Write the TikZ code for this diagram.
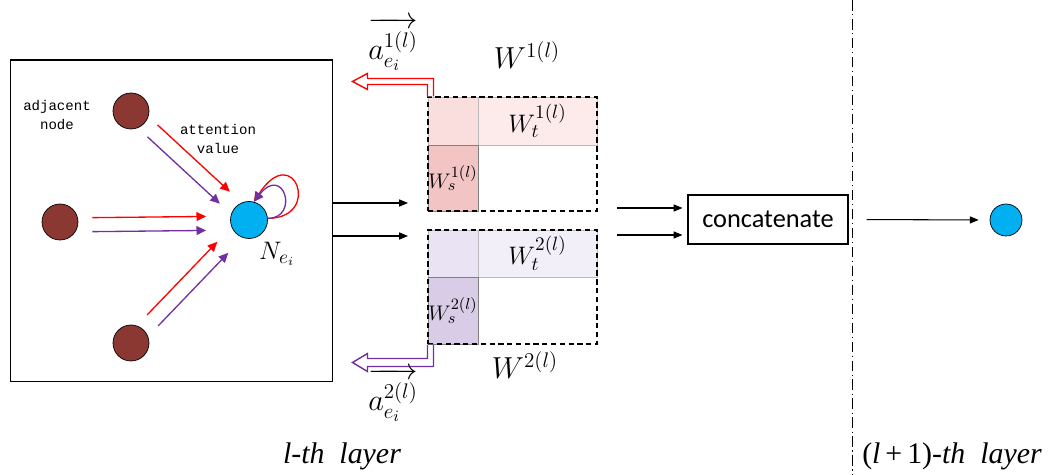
\documentclass[tikz,border=0pt]{standalone}
\usepackage{fontspec}
\setmainfont{Liberation Serif}
\newfontfamily\adjmono{Liberation Mono}
\newfontfamily\concatfont{Carlito}
\usetikzlibrary{arrows.meta,calc}

\definecolor{adjbrown}{RGB}{140,56,50}
\definecolor{tgtblue}{RGB}{0,176,240}
\definecolor{attpurple}{RGB}{112,48,160}
\definecolor{wtred}{RGB}{253,234,234}
\definecolor{cornerred}{RGB}{250,222,222}
\definecolor{wsred}{RGB}{242,196,196}
\definecolor{wtpurple}{RGB}{243,239,248}
\definecolor{cornerpurple}{RGB}{234,227,243}
\definecolor{wspurple}{RGB}{216,204,230}

\begin{document}
\begin{tikzpicture}[
            x=0.02cm, y=-0.02cm,
            adj/.style={
                    circle,
                    draw,
                    inner sep=0pt,
                    minimum size=0.72cm,
                    fill=adjbrown
                },
            tgt/.style={
                    circle,
                    draw,
                    inner sep=0pt,
                    minimum size=0.74cm,
                    fill=tgtblue
                },
            redarr/.style={
                    -{Triangle[length=5.5pt, width=5pt]},
                    line width=0.75pt,
                    draw=red
                },
            purarr/.style={
                    -{Triangle[length=5.5pt, width=5pt]},
                    line width=0.75pt,
                    draw=attpurple
                },
            flow/.style={
                    -{Triangle[length=5pt, width=4pt]},
                    line width=0.6pt
                },
            cell/.style={
                    draw=gray!55,
                    line width=0.4pt,
                    inner sep=0pt,
                    font=\fontsize{15}{18}\selectfont
                },
            wmat/.style={
                    draw,
                    dash pattern=on 3pt off 2pt,
                    line width=0.6pt,
                    inner sep=0pt,
                    minimum width=3.38cm,
                    minimum height=2.28cm
                },
            mono/.style={
                    align=center,
                    font=\adjmono\fontsize{8}{10.8}\selectfont
                },
            wlbl/.style={
                    font=\fontsize{18}{21}\selectfont
                },
            vlbl/.style={
                    anchor=base,
                    inner sep=0pt,
                    font=\fontsize{18}{21}\selectfont
                },
            layerlbl/.style={
                    font=\fontsize{17}{20}\selectfont
                }
        ]

        \useasboundingbox (0,0) rectangle (1051,475);

        % left box with the attention graph
        \node[draw, line width=0.6pt, minimum width=6.46cm, minimum height=6.44cm] (layer) at (171.5,221) {};

        \node[adj] (top) at (131,111) {};
        \node[adj] (left) at (60,222) {};
        \node[adj] (bot) at (131,343) {};
        \node[tgt] (ctr) at (249,220) {};

        \node[mono] (adjtxt) at (57,115) {adjacent\\node};
        \node[mono] (atttxt) at (218,139) {attention\\value};
        \node[font=\fontsize{15}{17}\selectfont] (ntxt) at (277,254) {$N_{e_i}$};

        \draw[redarr, shorten <=0.22cm, shorten >=0.28cm, transform canvas={shift={(5,-6)}}] (top) -- (ctr);
        \draw[purarr, shorten <=0.22cm, shorten >=0.28cm, transform canvas={shift={(-5,6)}}] (top) -- (ctr);

        \draw[redarr, shorten <=0.28cm, shorten >=0.48cm, transform canvas={shift={(0,-4)}}] (left) -- (ctr);
        \draw[purarr, shorten <=0.28cm, shorten >=0.48cm, transform canvas={shift={(0,10)}}] (left) -- (ctr);

        \draw[redarr, shorten <=0.26cm, shorten >=0.38cm, transform canvas={shift={(-5.5,-5.5)}}] (bot) -- (ctr);
        \draw[purarr, shorten <=0.26cm, shorten >=0.38cm, transform canvas={shift={(5.5,5.5)}}] (bot) -- (ctr);

        \draw[redarr] (ctr.5) .. controls +(55,0) and +(40,-62) .. (ctr.75);
        \draw[purarr] (ctr.5) .. controls +(32,0) and +(30,-38) .. (ctr.75);

        % the two weight matrices
        \node[cell, fill=wtred, minimum width=2.38cm, minimum height=0.96cm] (wt1) at (537.5,121) {$W_t^{1(l)}$};
        \node[cell, fill=cornerred, minimum width=1cm, minimum height=0.96cm] (cr1) at (453,121) {};
        \node[cell, draw=gray, fill=wsred, minimum width=1cm, minimum height=1.32cm,
            font=\fontsize{12.5}{15}\selectfont] (ws1) at (453,178) {$W_s^{1(l)}$};
        \node[wmat] (m1) at (512.5,154) {};

        \node[cell, fill=wtpurple, minimum width=2.38cm, minimum height=0.94cm] (wt2) at (537.5,253.5) {$W_t^{2(l)}$};
        \node[cell, fill=cornerpurple, minimum width=1cm, minimum height=0.94cm] (cr2) at (453,253.5) {};
        \node[cell, draw=gray, fill=wspurple, minimum width=1cm, minimum height=1.34cm,
            font=\fontsize{12.5}{15}\selectfont] (ws2) at (453,310.5) {$W_s^{2(l)}$};
        \node[wmat] (m2) at (512.5,287) {};

        % hollow output arrows
        \draw[red, line width=0.8pt, fill=white] ($(m1.north west)+(6,0)$) -- ++(0,-18) -- ++(-66,0) -- ++(0,-5)
            -- ++(-15,8) -- ++(15,8) -- ++(0,-5) -- ++(60,0) -- ++(0,12);
        \draw[attpurple, line width=0.8pt, fill=white] ($(m2.south west)+(6,0)$) -- ++(0,22) -- ++(-66,0) -- ++(0,5)
            -- ++(-15,-9) -- ++(15,-9) -- ++(0,5) -- ++(60,0) -- ++(0,-14);

        \node[wlbl] (w1txt) at (527,55) {$W^{1(l)}$};
        \node[wlbl] (w2txt) at (525,365) {$W^{2(l)}$};

        \node[vlbl] (vec1) at (393,60) {$\overrightarrow{\rule{0pt}{1.05em}a^{1(l)}_{e_i}}$};
        \node[vlbl] (vec2) at (393,411) {$\overrightarrow{\rule{0pt}{1.05em}a^{2(l)}_{e_i}}$};

        \coordinate (in1) at (408,203);
        \coordinate (in2) at (408,236);
        \draw[flow] (layer.east |- in1) -- (in1);
        \draw[flow] (layer.east |- in2) -- (in2);

        % concatenation and next layer
        \node[draw, line width=0.6pt, minimum width=3.2cm, minimum height=0.98cm,
            font=\concatfont\fontsize{15}{18}\selectfont] (concat) at (768,219.5) {concatenate};
        \node[tgt, minimum size=0.64cm] (out) at (1006,220) {};

        \coordinate (cc1) at (617,208);
        \coordinate (cc2) at (617,235);
        \draw[flow, shorten >=0.1cm] (cc1) -- (cc1 -| concat.west);
        \draw[flow, shorten >=0.1cm] (cc2) -- (cc2 -| concat.west);
        \draw[flow, shorten <=0.36cm, shorten >=0.22cm] (concat.east) -- (out.west);

        \draw[line width=0.5pt, dash pattern=on 6pt off 2pt on 0.8pt off 2pt] (852,0) -- (852,475);

        \node[layerlbl] (lthis) at (342,456) {\textit{l-th~~layer}};
        \node[layerlbl] (lnext) at (952,456) {(\textit{l}\,+\,1)\textit{-th~~layer}};

    \end{tikzpicture}
\end{document}
